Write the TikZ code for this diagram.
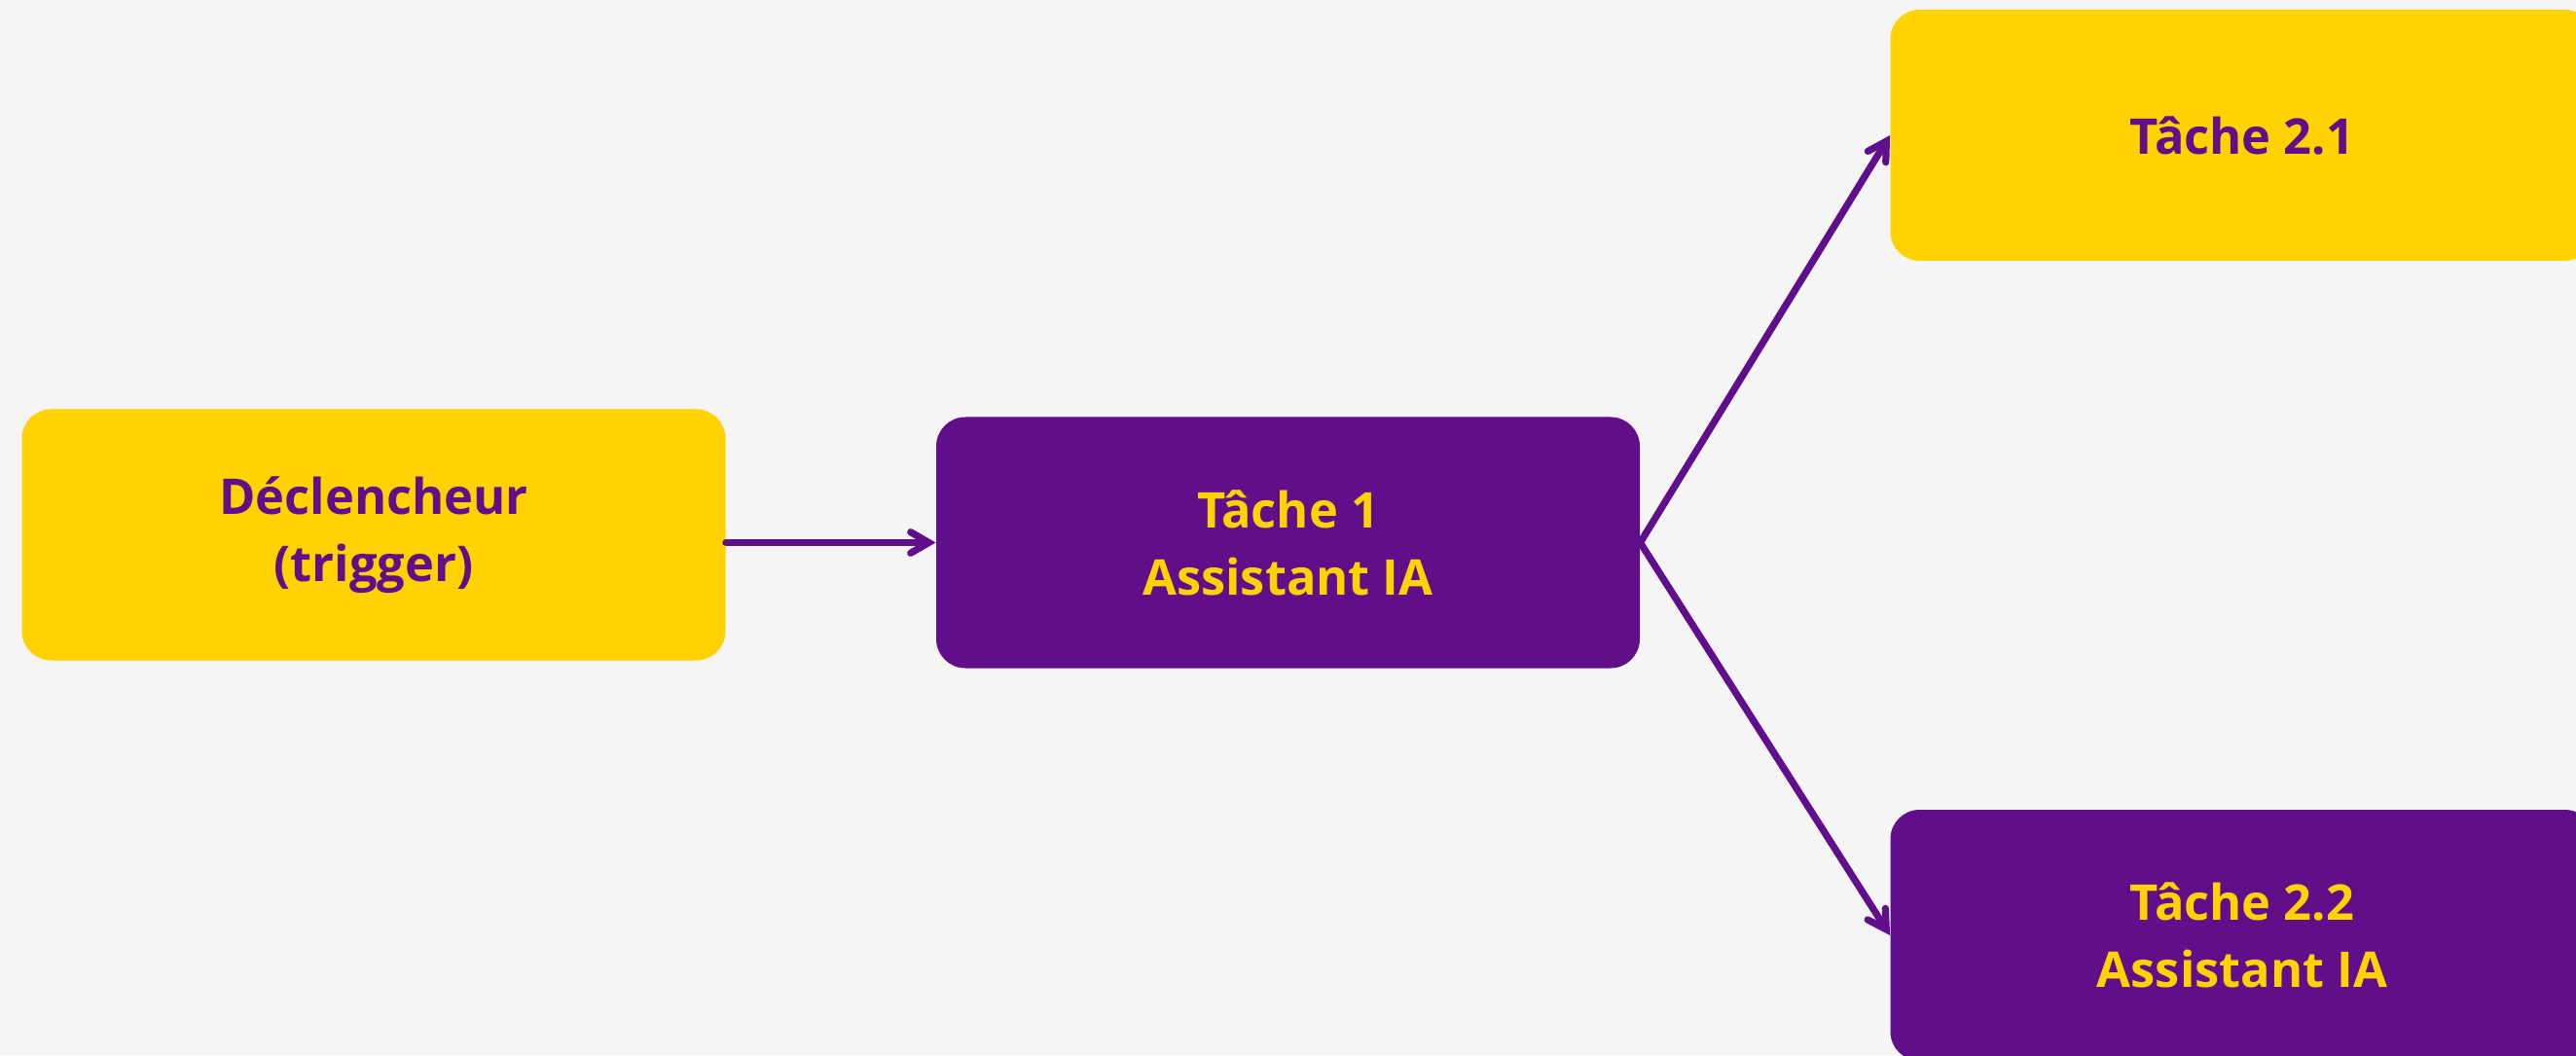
\documentclass[tikz,border=0pt]{standalone}
\usepackage{fontspec}
\newfontfamily\titrefont{Open Sans}[BoldFont={Open Sans Bold}]
\usepackage{tikz}
\usetikzlibrary{arrows}
\definecolor{jaune}{HTML}{FFD200}
\definecolor{violet}{HTML}{600E8A}
\definecolor{fond}{HTML}{F5F5F5}
\tikzstyle{tache}=[rounded corners=15pt,minimum width=361.5pt,minimum height=129pt,align=center,font=\titrefont\bfseries\fontsize{25.3}{34.5}\selectfont]
\tikzstyle{tachejaune}=[tache,fill=jaune,text=violet]
\tikzstyle{tacheviolet}=[tache,fill=violet,text=jaune]
\tikzstyle{fleche}=[draw=violet,line width=3.6pt,line cap=round,-angle 60]

\begin{document}
\begin{tikzpicture}
\fill[fond] (0,0) rectangle (1323.5pt,542pt);
\useasboundingbox (0,0) rectangle (1323.5pt,542pt);
\node [tachejaune] (decl) at (192pt,267.25pt) {Déclencheur\\(trigger)};
\node [tacheviolet] (t1) at (661.75pt,263.25pt) {Tâche 1\\Assistant IA};
\node [tachejaune] (t21) at (1152pt,472.5pt) {Tâche 2.1};
\node [tacheviolet] (t22) at (1152pt,61.5pt) {Tâche 2.2\\Assistant IA};
\draw [fleche] (t1.west -| decl.east) -- (t1.west);
\draw [fleche] (t1.east) -- (t21.west);
\draw [fleche] (t1.east) -- (t22.west);
\end{tikzpicture}
\end{document}
